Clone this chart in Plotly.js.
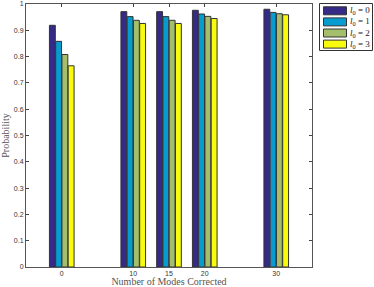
<!DOCTYPE html>
<html><head><meta charset="utf-8">
<script src="https://cdn.plot.ly/plotly-3.0.1.min.js"></script>
<style>html,body{margin:0;padding:0;background:#fff;}</style>
</head><body><div id="chart" style="width:374px;height:287px;"></div>
<script>
var modes = [0, 10, 15, 20, 30];
var seriesNames = ['<i>l</i><sub>0</sub> = 0', '<i>l</i><sub>0</sub> = 1', '<i>l</i><sub>0</sub> = 2', '<i>l</i><sub>0</sub> = 3'];
var l0_0 = [0.919, 0.971, 0.971, 0.976, 0.980];
var l0_1 = [0.858, 0.952, 0.952, 0.962, 0.968];
var l0_2 = [0.808, 0.938, 0.938, 0.953, 0.963];
var l0_3 = [0.765, 0.926, 0.926, 0.945, 0.959];
var colors = ['#352A87', '#079CCF', '#A5BE6B', '#F9FB0E'];
var yTicks = [0, 0.1, 0.2, 0.3, 0.4, 0.5, 0.6, 0.7, 0.8, 0.9, 1];
var yTickText = ['0', '0.1', '0.2', '0.3', '0.4', '0.5', '0.6', '0.7', '0.8', '0.9', '1'];

var allSeries = [l0_0, l0_1, l0_2, l0_3];
var data = allSeries.map(function (vals, i) {
  return {
    type: 'bar', x: modes, y: vals, name: seriesNames[i], showlegend: false,
    marker: {color: colors[i], line: {color: '#333333', width: 1}}
  };
});

// custom compact legend (MATLAB style), positioned in pixels -> paper coords
var W = 374, H = 287, mL = 26, mR = 62, mT = 4, mB = 20;
var pw = W - mL - mR, ph = H - mT - mB;
function px(x) { return (x - mL) / pw; }
function py(y) { return (H - mB - y) / ph; }
var shapes = [{type: 'rect', xref: 'paper', yref: 'paper',
  x0: px(319.5), x1: px(372.5), y0: py(50.5), y1: py(3.5),
  line: {color: '#333', width: 1}, fillcolor: '#fff'}];
var annotations = [];
seriesNames.forEach(function (nm, i) {
  var cy = 10.8 + 11.1 * i;
  shapes.push({type: 'rect', xref: 'paper', yref: 'paper',
    x0: px(323.5), x1: px(346.5), y0: py(cy + 4), y1: py(cy - 4),
    line: {color: '#333', width: 1}, fillcolor: colors[i]});
  annotations.push({xref: 'paper', yref: 'paper', x: px(347.5), y: py(cy),
    xanchor: 'left', yanchor: 'middle', showarrow: false, text: nm,
    font: {family: 'Liberation Serif', size: 9, color: '#222'}});
});

var layout = {
  width: W, height: H,
  margin: {l: mL, r: mR, t: mT, b: mB},
  paper_bgcolor: '#fff', plot_bgcolor: '#fff',
  barmode: 'group', bargap: 0.3, bargroupgap: 0.06,
  showlegend: false,
  shapes: shapes, annotations: annotations,
  xaxis: {
    range: [-5, 35], tickvals: modes, ticktext: modes.map(String),
    ticks: 'inside', ticklen: 3, tickcolor: '#444', mirror: 'ticks',
    showline: true, linecolor: '#555', linewidth: 1,
    showgrid: false, zeroline: false,
    tickfont: {family: 'Liberation Sans', size: 7, color: '#333'},
    title: {text: 'Number of Modes Corrected', standoff: 2,
      font: {family: 'Liberation Serif', size: 10, color: '#555'}}
  },
  yaxis: {
    range: [0, 1], tickvals: yTicks, ticktext: yTickText,
    ticks: 'inside', ticklen: 3, tickcolor: '#444', mirror: 'ticks',
    showline: true, linecolor: '#555', linewidth: 1,
    showgrid: false, zeroline: false,
    tickfont: {family: 'Liberation Sans', size: 7, color: '#333'},
    title: {text: 'Probability', standoff: 4,
      font: {family: 'Liberation Serif', size: 10, color: '#555'}}
  }
};
Plotly.newPlot('chart', data, layout, {displayModeBar: false, staticPlot: true});
</script></body></html>
